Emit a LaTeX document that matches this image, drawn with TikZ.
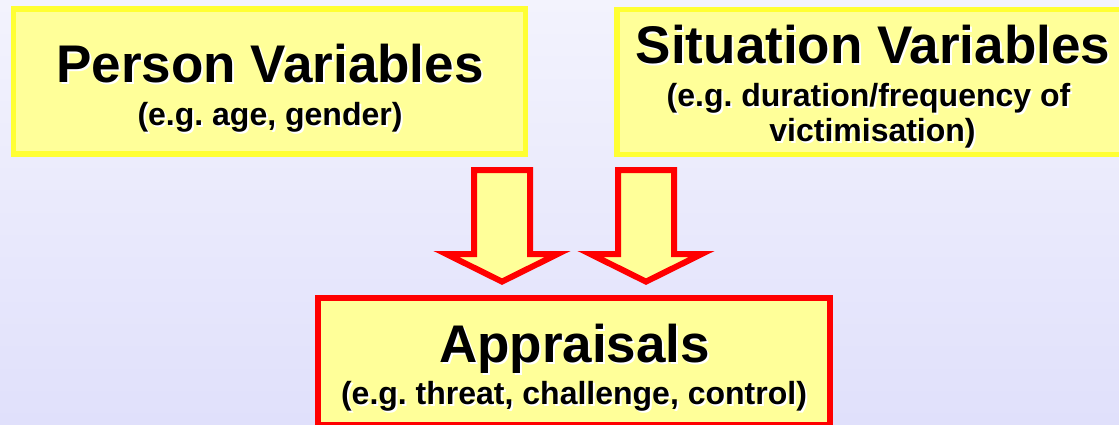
\documentclass[tikz,border=0pt]{standalone}
\usepackage{fontspec}
\setmainfont{Liberation Sans}
\frenchspacing
\definecolor{boxfill}{RGB}{255,255,153}
\definecolor{boxline}{RGB}{255,255,51}
\definecolor{bgtop}{RGB}{243,243,253}
\definecolor{bgbot}{RGB}{224,224,251}
\newcommand\txtshadow[1]{\makebox[0pt][l]{\color{white}\hspace{2pt}\raisebox{-2pt}{#1}}#1}
\tikzset{
	downarrow/.pic = {
		\draw [fill=boxfill, draw=red, line width=6pt] (-28,0) -- (28,0) -- (28,84) -- (55.7,84) -- (0,111.6) -- (-55.7,84) -- (-28,84) -- cycle;
	}
}
\tikzstyle{ybox} = [rectangle, fill=boxfill, draw=boxline, line width=5.5pt, minimum width=512pt, minimum height=145pt, inner sep=0pt]
\tikzstyle{rbox} = [rectangle, fill=boxfill, draw=red, line width=6pt, minimum width=512pt, minimum height=126.7pt, inner sep=0pt]
\tikzstyle{title} = [anchor=base, inner sep=0pt, font=\fontsize{53}{60}\selectfont\bfseries]
\tikzstyle{sub} = [anchor=base, inner sep=0pt, font=\fontsize{32}{36}\selectfont\bfseries]

\begin{document}
\begin{tikzpicture}[x=1pt, y=-1pt]

		\useasboundingbox (0,0) rectangle (1119,424);
		\clip (0,0) rectangle (1119,424);
		\shade [top color=bgtop, bottom color=bgbot] (0,0) rectangle (1119,424);

		\node [ybox] (person) at (269.7,81.7) {};
		\node [title] (persontitle) at (270,82) {\txtshadow{Person Variables}};
		\node [sub] (personsub) at (270,125) {\txtshadow{(e.g. age, gender)}};

		\node [ybox] (situation) at (872.8,82) {};
		\node [title] (situationtitle) at (873,63) {\txtshadow{Situation Variables}};
		\node [sub] (situationsub) at (868.5,106) {\txtshadow{(e.g. duration/frequency of}};
		\node [sub] (situationsubb) at (872.5,141) {\txtshadow{victimisation)}};

		\path (502,170) pic{downarrow};
		\path (646,170) pic{downarrow};

		\node [rbox] (appraisals) at (574,361.4) {};
		\node [title] (appraisalstitle) at (574.5,362) {\txtshadow{Appraisals}};
		\node [sub] (appraisalssub) at (574,404) {\txtshadow{(e.g. threat, challenge, control)}};

	\end{tikzpicture}
\end{document}
